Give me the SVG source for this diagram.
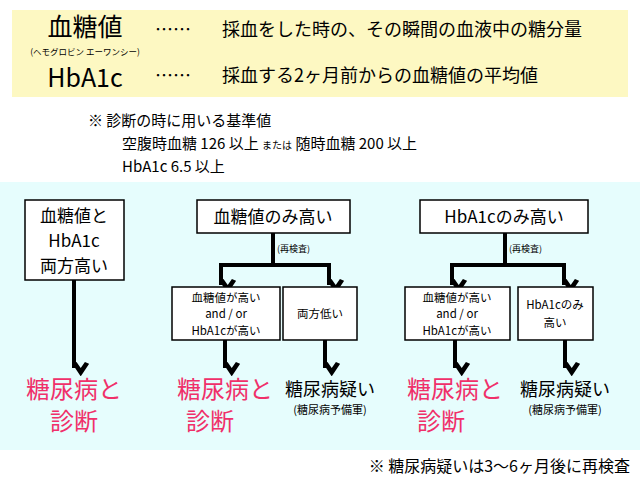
<svg xmlns="http://www.w3.org/2000/svg" width="640" height="481" viewBox="0 0 640 481">
<defs>
<style>
text{font-family:"Noto Sans CJK JP","Noto Sans",sans-serif;fill:#000}
.box{fill:#fff;stroke:#000;stroke-width:1.5}
.ln{stroke:#000;stroke-width:4;fill:none}
.pk{fill:#f0306a;font-size:24px}
</style>
<marker id="ah" viewBox="0 0 10 10" refX="5" refY="9" markerWidth="4.2" markerHeight="4.2" orient="auto-start-reverse" markerUnits="strokeWidth"><path d="M0,2.5 L5,10 L10,2.5 L7.5,1.5 L5,5 L2.5,1.5 Z" fill="#000" transform="rotate(-90 5 5)"/></marker>
</defs>
<rect x="0" y="0" width="640" height="481" fill="#fff"/>
<rect x="12" y="10" width="616" height="87" fill="#fdf8c2"/>
<rect x="0" y="182" width="640" height="268" fill="#e6fdfd"/>
<g id="header">
<text x="85" y="36" font-size="25" text-anchor="middle">血糖値</text>
<text x="155" y="36" font-size="18">……</text>
<text x="222" y="36" font-size="18">採血をした時の、その瞬間の血液中の糖分量</text>
<text x="85" y="55" font-size="8.5" text-anchor="middle">(ヘモグロビン エーワンシー)</text>
<text x="85" y="87" font-size="25" text-anchor="middle" font-family="Liberation Sans,sans-serif">HbA1c</text>
<text x="155" y="82" font-size="18">……</text>
<text x="222" y="82" font-size="18">採血する2ヶ月前からの血糖値の平均値</text>
<text x="88" y="126" font-size="15">※ 診断の時に用いる基準値</text>
<text x="122" y="149" font-size="15">空腹時血糖 126 以上 <tspan font-size="10">または</tspan> 随時血糖 200 以上</text>
<text x="122" y="172" font-size="15">HbA1c 6.5 以上</text>
</g>
<g id="connectors">
<path class="ln" d="M74,280 V368" marker-end="url(#ah)"/>
<path class="ln" d="M273,233 V265"/>
<path class="ln" d="M219,265 H331"/>
<path class="ln" d="M221,263 V285" marker-end="url(#ah)"/>
<path class="ln" d="M329,263 V285" marker-end="url(#ah)"/>
<path class="ln" d="M505,233 V265"/>
<path class="ln" d="M450,265 H566"/>
<path class="ln" d="M452,263 V285" marker-end="url(#ah)"/>
<path class="ln" d="M564,263 V285" marker-end="url(#ah)"/>
<path class="ln" d="M225,340 V368" marker-end="url(#ah)"/>
<path class="ln" d="M325,340 V368" marker-end="url(#ah)"/>
<path class="ln" d="M455,340 V368" marker-end="url(#ah)"/>
<path class="ln" d="M565,340 V368" marker-end="url(#ah)"/>
<text x="277" y="252" font-size="9">(再検査)</text>
<text x="509" y="252" font-size="9">(再検査)</text>
</g>
<g id="n1"><rect class="box" x="25" y="200" width="99" height="80"/>
<text x="74" y="222" font-size="17" text-anchor="middle">血糖値と</text>
<text x="74" y="247" font-size="17" text-anchor="middle">HbA1c</text>
<text x="74" y="272" font-size="17" text-anchor="middle">両方高い</text></g>
<g id="n2"><rect class="box" x="197" y="200" width="153" height="33"/>
<text x="273" y="223" font-size="17" text-anchor="middle">血糖値のみ高い</text></g>
<g id="n3"><rect class="box" x="420" y="200" width="168" height="33"/>
<text x="504" y="223" font-size="17" text-anchor="middle">HbA1cのみ高い</text></g>
<g id="n4"><rect class="box" x="172" y="287" width="108" height="53"/>
<text x="226" y="302" font-size="11.5" text-anchor="middle">血糖値が高い</text>
<text x="226" y="318" font-size="11.5" text-anchor="middle">and / or</text>
<text x="226" y="335" font-size="11.5" text-anchor="middle">HbA1cが高い</text></g>
<g id="n5"><rect class="box" x="283" y="287" width="74" height="53"/>
<text x="320" y="318" font-size="11.5" text-anchor="middle">両方低い</text></g>
<g id="n6"><rect class="box" x="405" y="287" width="105" height="53"/>
<text x="457" y="302" font-size="11.5" text-anchor="middle">血糖値が高い</text>
<text x="457" y="318" font-size="11.5" text-anchor="middle">and / or</text>
<text x="457" y="335" font-size="11.5" text-anchor="middle">HbA1cが高い</text></g>
<g id="n7"><rect class="box" x="518" y="287" width="75" height="53"/>
<text x="555" y="309" font-size="11.5" text-anchor="middle">HbA1cのみ</text>
<text x="555" y="327" font-size="11.5" text-anchor="middle">高い</text></g>
<g id="r1"><text class="pk" x="74" y="398" text-anchor="middle">糖尿病と</text>
<text class="pk" x="74" y="430" text-anchor="middle">診断</text></g>
<g id="r2"><text class="pk" x="225" y="398" text-anchor="middle">糖尿病と</text>
<text class="pk" x="210" y="430" text-anchor="middle">診断</text></g>
<g id="r3"><text x="330" y="396" font-size="18" text-anchor="middle">糖尿病疑い</text>
<text x="330" y="414" font-size="11" text-anchor="middle">(糖尿病予備軍)</text></g>
<g id="r4"><text class="pk" x="455" y="398" text-anchor="middle">糖尿病と</text>
<text class="pk" x="441" y="430" text-anchor="middle">診断</text></g>
<g id="r5"><text x="565" y="396" font-size="18" text-anchor="middle">糖尿病疑い</text>
<text x="565" y="414" font-size="11" text-anchor="middle">(糖尿病予備軍)</text></g>
<text x="630" y="472" font-size="16" text-anchor="end">※ 糖尿病疑いは3〜6ヶ月後に再検査</text>
</svg>
